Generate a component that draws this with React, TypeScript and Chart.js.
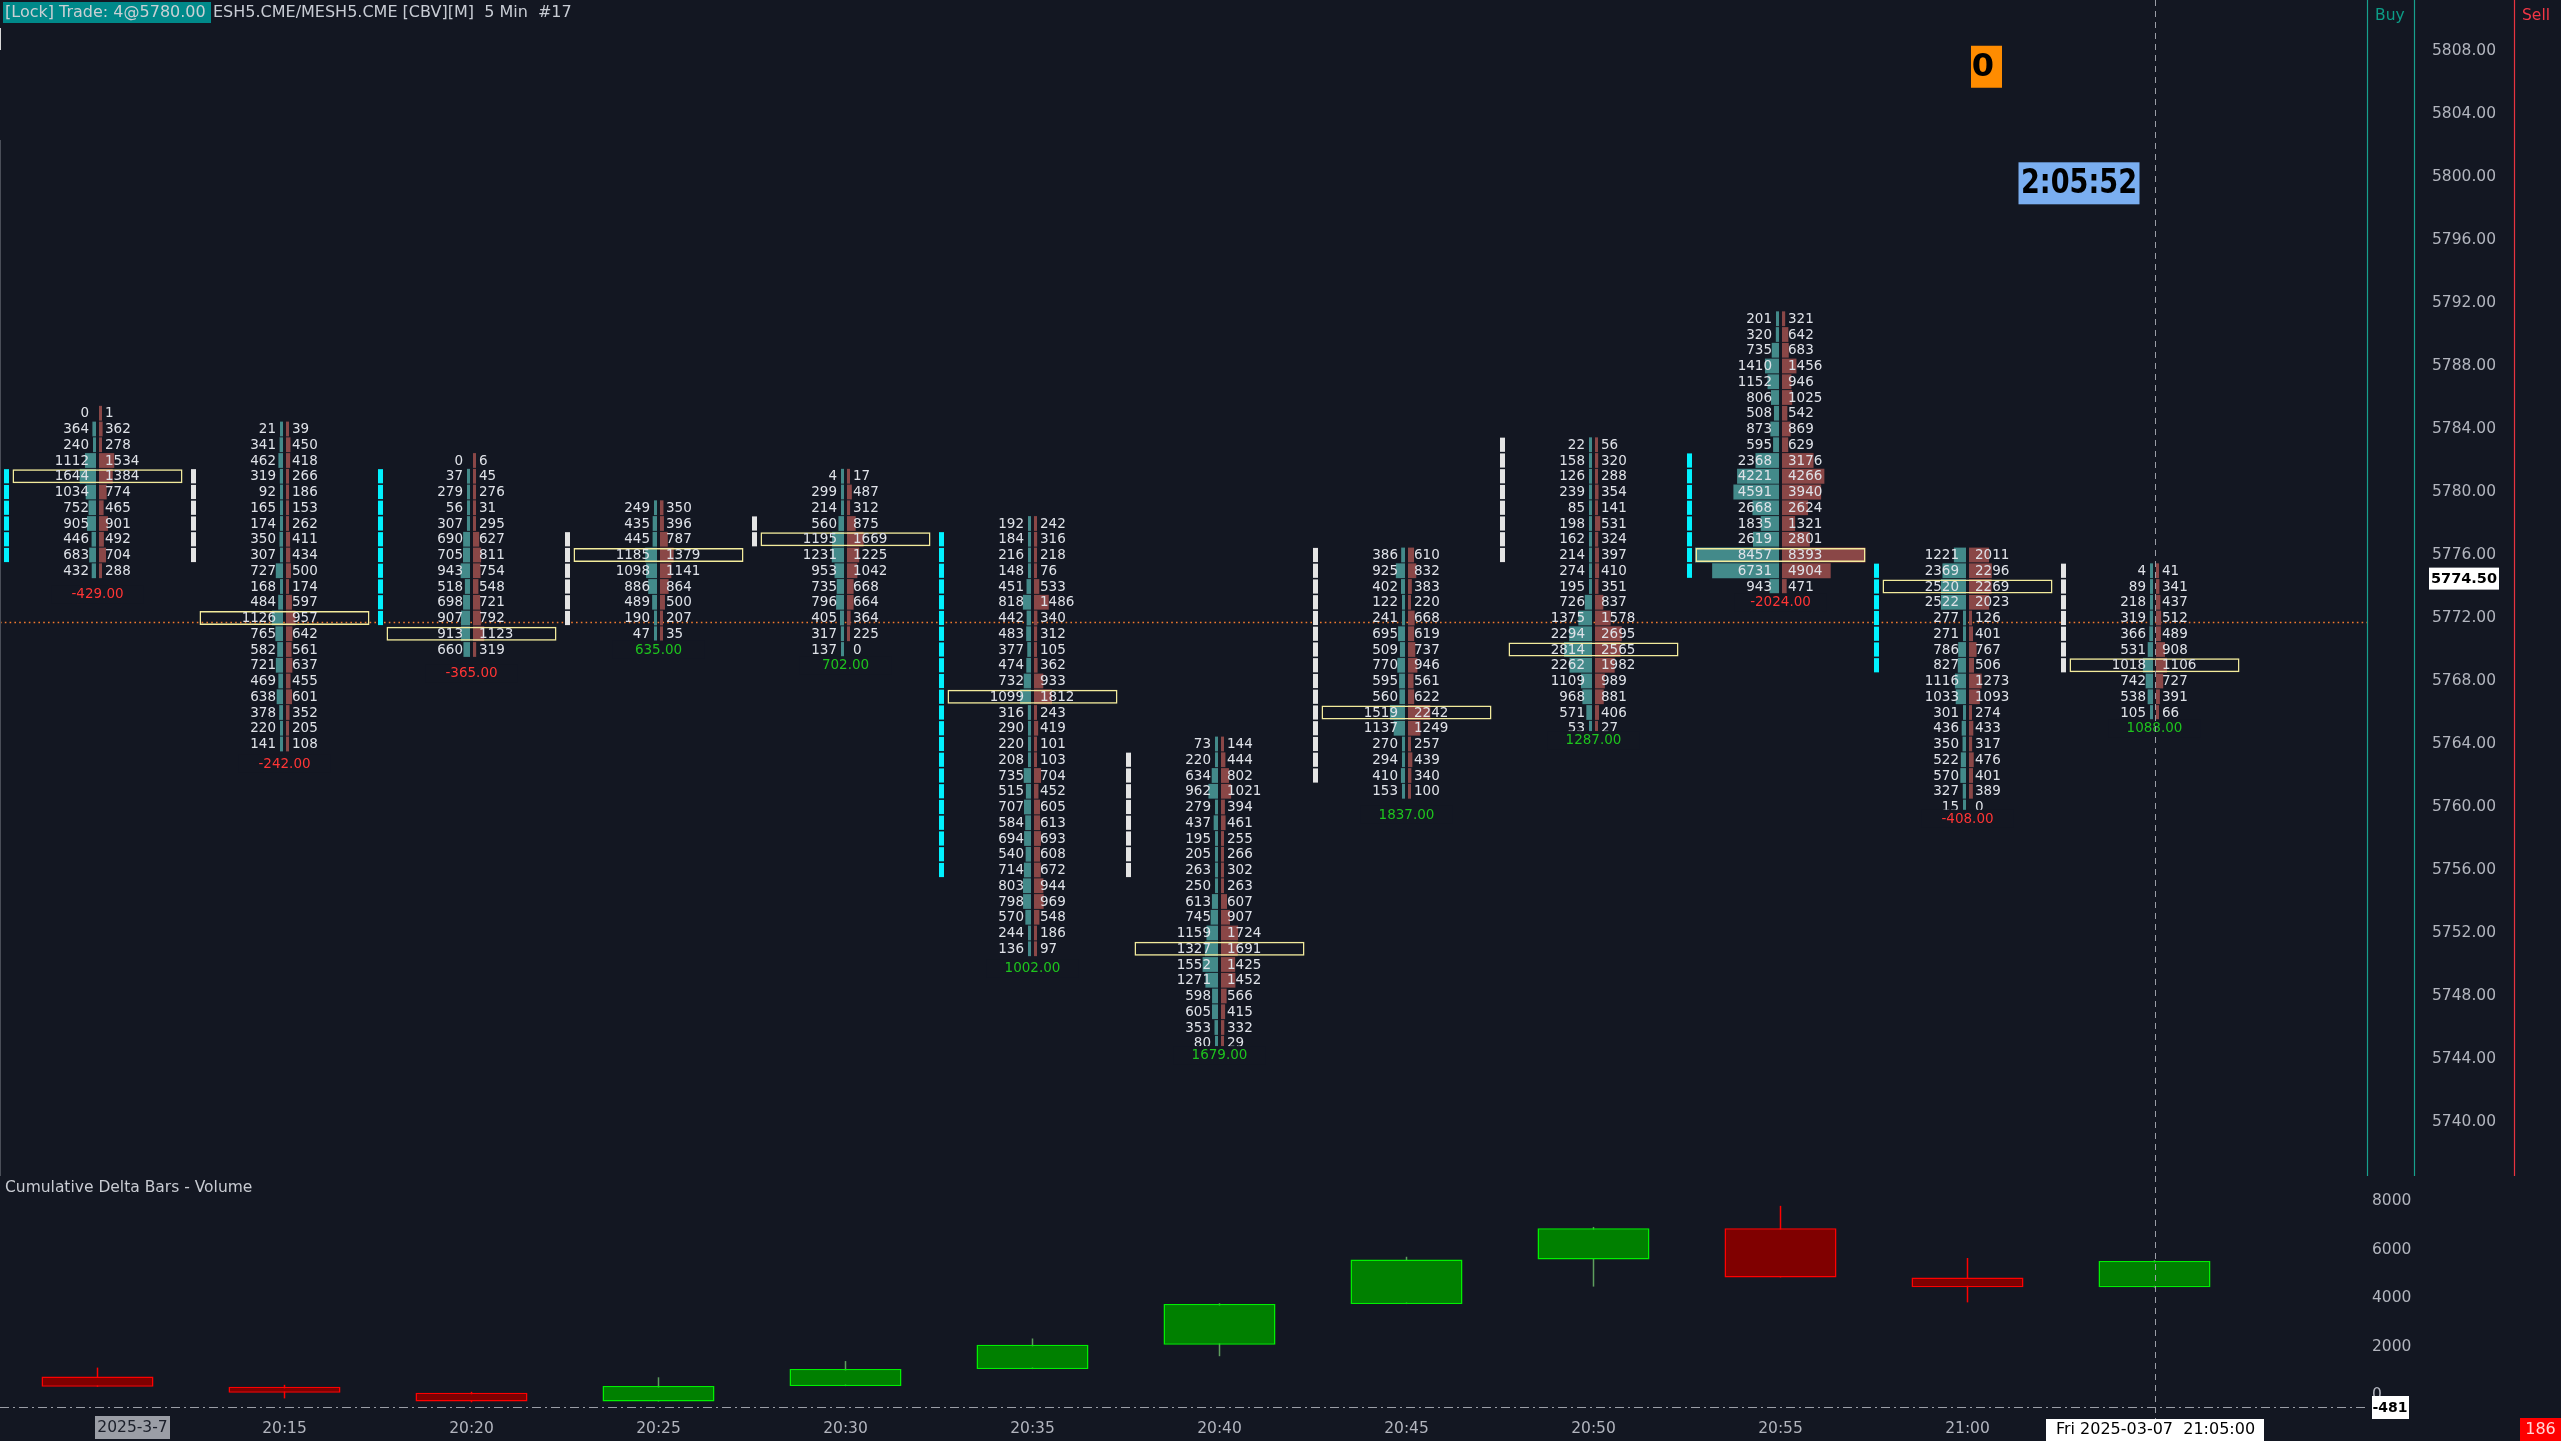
import React, { useEffect, useRef } from 'react';
import { Chart, registerables } from 'chart.js';

Chart.register(...registerables);

// ======================= DATA =======================
const TIME_LABELS = ['20:10', '20:15', '20:20', '20:25', '20:30', '20:35', '20:40', '20:45', '20:50', '20:55', '21:00', '21:05'];
// price of the first (highest) footprint row of each bar
const TOP_PRICES = [5785, 5784, 5782, 5779, 5781, 5778, 5764, 5776, 5783, 5791, 5776, 5775];

const BID_2010 = [0, 364, 240, 1112, 1644, 1034, 752, 905, 446, 683, 432];
const ASK_2010 = [1, 362, 278, 1534, 1384, 774, 465, 901, 492, 704, 288];
const BID_2015 = [21, 341, 462, 319, 92, 165, 174, 350, 307, 727, 168, 484, 1126, 765, 582, 721, 469, 638, 378, 220, 141];
const ASK_2015 = [39, 450, 418, 266, 186, 153, 262, 411, 434, 500, 174, 597, 957, 642, 561, 637, 455, 601, 352, 205, 108];
const BID_2020 = [0, 37, 279, 56, 307, 690, 705, 943, 518, 698, 907, 913, 660];
const ASK_2020 = [6, 45, 276, 31, 295, 627, 811, 754, 548, 721, 792, 1123, 319];
const BID_2025 = [249, 435, 445, 1185, 1098, 886, 489, 190, 47];
const ASK_2025 = [350, 396, 787, 1379, 1141, 864, 500, 207, 35];
const BID_2030 = [4, 299, 214, 560, 1195, 1231, 953, 735, 796, 405, 317, 137];
const ASK_2030 = [17, 487, 312, 875, 1669, 1225, 1042, 668, 664, 364, 225, 0];
const BID_2035 = [192, 184, 216, 148, 451, 818, 442, 483, 377, 474, 732, 1099, 316, 290, 220, 208, 735, 515, 707, 584, 694, 540, 714, 803, 798, 570, 244, 136];
const ASK_2035 = [242, 316, 218, 76, 533, 1486, 340, 312, 105, 362, 933, 1812, 243, 419, 101, 103, 704, 452, 605, 613, 693, 608, 672, 944, 969, 548, 186, 97];
const BID_2040 = [73, 220, 634, 962, 279, 437, 195, 205, 263, 250, 613, 745, 1159, 1327, 1552, 1271, 598, 605, 353, 80];
const ASK_2040 = [144, 444, 802, 1021, 394, 461, 255, 266, 302, 263, 607, 907, 1724, 1691, 1425, 1452, 566, 415, 332, 29];
const BID_2045 = [386, 925, 402, 122, 241, 695, 509, 770, 595, 560, 1519, 1137, 270, 294, 410, 153];
const ASK_2045 = [610, 832, 383, 220, 668, 619, 737, 946, 561, 622, 2242, 1249, 257, 439, 340, 100];
const BID_2050 = [22, 158, 126, 239, 85, 198, 162, 214, 274, 195, 726, 1375, 2294, 2814, 2262, 1109, 968, 571, 53];
const ASK_2050 = [56, 320, 288, 354, 141, 531, 324, 397, 410, 351, 837, 1578, 2695, 2565, 1982, 989, 881, 406, 27];
const BID_2055 = [201, 320, 735, 1410, 1152, 806, 508, 873, 595, 2368, 4221, 4591, 2668, 1835, 2619, 8457, 6731, 943];
const ASK_2055 = [321, 642, 683, 1456, 946, 1025, 542, 869, 629, 3176, 4266, 3940, 2624, 1321, 2801, 8393, 4904, 471];
const BID_2100 = [1221, 2369, 2520, 2522, 277, 271, 786, 827, 1116, 1033, 301, 436, 350, 522, 570, 327, 15];
const ASK_2100 = [2011, 2296, 2269, 2023, 126, 401, 767, 506, 1273, 1093, 274, 433, 317, 476, 401, 389, 0];
const BID_2105 = [4, 89, 218, 319, 366, 531, 1018, 742, 538, 105];
const ASK_2105 = [41, 341, 437, 512, 489, 908, 1106, 727, 391, 66];

const POC_PRICES = [5781, 5772, 5771, 5776, 5777, 5767, 5751, 5766, 5770, 5776, 5774, 5769];
const BAR_DELTAS = [-429, -242, -365, 635, 702, 1002, 1679, 1837, 1287, -2024, -408, 1088];
const BAR_LOWS = [5774.5, 5763.75, 5769.5, 5771, 5770, 5750.75, 5745.25, 5760.5, 5765.25, 5774, 5760.25, 5766];

const MARKER_TOPS = [5781, 5781, 5781, 5777, 5778, 5777, 5763, 5776, 5783, 5782, 5775, 5775];
const MARKER_BOTTOMS = [5776, 5776, 5772, 5772, 5777, 5756, 5756, 5762, 5776, 5775, 5769, 5769];
const MARKER_KINDS = ['cyan', 'white', 'cyan', 'white', 'white', 'cyan', 'white', 'white', 'white', 'cyan', 'cyan', 'white'];

const CD_OPEN = [768, 339, 97, -268, 367, 1069, 2071, 3750, 5587, 6874, 4850, 4442];
const CD_HIGH = [1130, 420, 130, 730, 1400, 2330, 3780, 5700, 6930, 7800, 5650, 5560];
const CD_LOW = [339, -140, -300, -268, 367, 1069, 1600, 3750, 4470, 4850, 3820, 4430];
const CD_CLOSE = [339, 97, -268, 367, 1069, 2071, 3750, 5587, 6874, 4850, 4442, 5530];
const CD_TICKS = [0, 2000, 4000, 6000, 8000];

const PRICE_STEP = 4;
const LAST_PRICE = 5774.5;
const REF_PRICE = 5771.75;
const CROSS_VALUE = -481;
const CROSS_INDEX = 11;

const HEADER_LOCK = '[Lock] Trade: 4@5780.00';
const HEADER_SYMBOL = 'ESH5.CME/MESH5.CME [CBV][M]  5 Min  #17';
const COUNTER_TEXT = '0';
const TIMER_TEXT = '2:05:52';
const PANEL_TITLE = 'Cumulative Delta Bars - Volume';
const DATE_TEXT = '2025-3-7';
const CROSS_TIME_TEXT = 'Fri 2025-03-07  21:05:00';
const CORNER_TEXT = '186';
const BUY_TEXT = 'Buy';
const SELL_TEXT = 'Sell';

const BIDS = [BID_2010, BID_2015, BID_2020, BID_2025, BID_2030, BID_2035, BID_2040, BID_2045, BID_2050, BID_2055, BID_2100, BID_2105];
const ASKS = [ASK_2010, ASK_2015, ASK_2020, ASK_2025, ASK_2030, ASK_2035, ASK_2040, ASK_2045, ASK_2050, ASK_2055, ASK_2100, ASK_2105];

// ======================= LAYOUT / STYLE =======================
const W = 2561;
const H = 1441;
const MAIN_H = 1176;
const CD_H = H - MAIN_H;
const AXIS_W = 194;
const PLOT_W = W - AXIS_W;
const BAR_PX = 187;
const FIRST_X = 97.5;
const X_MIN = -FIRST_X / BAR_PX;
const X_MAX = (PLOT_W - FIRST_X) / BAR_PX;
const ROW_PX = 15.75;
const Y_MAX = 5808 + 51 / ROW_PX;
const Y_MIN = 5808 - (MAIN_H - 51) / ROW_PX;
const CD_PX = 0.02425;
const CD_MAX = 219 / CD_PX;
const CD_MIN = -20 / CD_PX;
const MAX_VOL_PX = 84;

const FONT = '"DejaVu Sans", "Noto Sans", sans-serif';
const BG = '#131722';
const FP_TEXT = '#dfe2e8';
const AXIS_TEXT = '#b2b5be';
const BID_COLOR = '#438a8a';
const ASK_COLOR = '#8a4747';
const POC_COLOR = '#f3eb9c';

Chart.defaults.font.family = FONT;

function maxVolume() {
  let m = 0;
  BIDS.forEach((b) => b.forEach((v) => { if (v > m) m = v; }));
  ASKS.forEach((a) => a.forEach((v) => { if (v > m) m = v; }));
  return m;
}

function fitText(ctx: any, text: string, cx: number, cy: number, maxW: number) {
  const w = ctx.measureText(text).width;
  const s = w > maxW ? maxW / w : 1;
  ctx.save();
  ctx.translate(cx, cy);
  ctx.scale(s, 1);
  ctx.textAlign = 'center';
  ctx.fillText(text, 0, 0);
  ctx.restore();
}

function buildMainDatasets() {
  const maxV = maxVolume();
  const volUnits = (v: number) => Math.max(3, (v / maxV) * MAX_VOL_PX) / BAR_PX;
  const gap = 1.5 / BAR_PX;
  const poc: any[] = [];
  const bid: any[] = [];
  const ask: any[] = [];
  const marker: any[] = [];
  const markerColors: string[] = [];
  POC_PRICES.forEach((p, i) => {
    poc.push({ x: [i - 85 / BAR_PX, i + 85 / BAR_PX], y: p });
  });
  BIDS.forEach((bids, i) => {
    bids.forEach((b, r) => {
      const price = TOP_PRICES[i] - r;
      if (b > 0) bid.push({ x: [i - gap - volUnits(b), i - gap], y: price });
      const a = ASKS[i][r];
      if (a > 0) ask.push({ x: [i + gap, i + gap + volUnits(a)], y: price });
    });
  });
  MARKER_TOPS.forEach((top, i) => {
    for (let p = top; p >= MARKER_BOTTOMS[i]; p--) {
      marker.push({ x: [i - 93.5 / BAR_PX, i - 88.5 / BAR_PX], y: p });
      markerColors.push(MARKER_KINDS[i] === 'cyan' ? '#00f2ff' : '#e4e4e4');
    }
  });
  return [
    { label: 'POC', data: poc, backgroundColor: 'rgba(0,0,0,0)', borderColor: POC_COLOR, borderWidth: 1.5, borderSkipped: false, barThickness: 14, grouped: false, inflateAmount: 0 },
    { label: 'Bid', data: bid, backgroundColor: BID_COLOR, borderWidth: 0, barThickness: 14.8, grouped: false, inflateAmount: 0 },
    { label: 'Ask', data: ask, backgroundColor: ASK_COLOR, borderWidth: 0, barThickness: 14.8, grouped: false, inflateAmount: 0 },
    { label: 'Marker', data: marker, backgroundColor: markerColors, borderWidth: 0, barThickness: 14.2, grouped: false, inflateAmount: 0 },
  ];
}

const mainOverlay = {
  id: 'mainOverlay',
  beforeDatasetsDraw(chart: any) {
    const { ctx, chartArea, scales } = chart;
    const y = Math.round(scales.y.getPixelForValue(REF_PRICE)) + 0.5;
    ctx.save();
    ctx.strokeStyle = '#f27a2e';
    ctx.lineWidth = 1.3;
    ctx.setLineDash([1.6, 3.2]);
    ctx.beginPath();
    ctx.moveTo(chartArea.left, y);
    ctx.lineTo(chartArea.right, y);
    ctx.stroke();
    ctx.restore();
  },
  afterDraw(chart: any) {
    const { ctx, chartArea } = chart;
    const x = chart.scales.x;
    const y = chart.scales.y;
    ctx.save();
    // footprint numbers
    ctx.font = `13.5px ${FONT}`;
    ctx.textBaseline = 'middle';
    ctx.fillStyle = FP_TEXT;
    BIDS.forEach((bids, i) => {
      const cx = x.getPixelForValue(i);
      bids.forEach((b, r) => {
        const py = y.getPixelForValue(TOP_PRICES[i] - r) + 0.5;
        ctx.textAlign = 'right';
        ctx.fillText(String(b), cx - 8.5, py);
        ctx.textAlign = 'left';
        ctx.fillText(String(ASKS[i][r]), cx + 7.5, py);
      });
    });
    // delta labels
    ctx.font = `13.5px ${FONT}`;
    ctx.textAlign = 'center';
    BAR_DELTAS.forEach((d, i) => {
      const cx = x.getPixelForValue(i);
      const ly = y.getPixelForValue(BAR_LOWS[i]) + ROW_PX;
      ctx.fillStyle = BG;
      ctx.fillRect(cx - 46, ly - 9, 92, 18);
      ctx.fillStyle = d < 0 ? '#ff3535' : '#1ec41e';
      ctx.fillText(d.toFixed(2), cx, ly + 0.5);
    });
    // separator lines on the right
    ctx.lineWidth = 1.2;
    ctx.strokeStyle = '#17a08d';
    [chartArea.right + 0.5, chartArea.right + 47.5].forEach((lx) => {
      ctx.beginPath();
      ctx.moveTo(lx, 0);
      ctx.lineTo(lx, MAIN_H);
      ctx.stroke();
    });
    ctx.strokeStyle = '#e8333f';
    ctx.beginPath();
    ctx.moveTo(chartArea.right + 147.5, 0);
    ctx.lineTo(chartArea.right + 147.5, MAIN_H);
    ctx.stroke();
    ctx.font = `15.5px ${FONT}`;
    ctx.textAlign = 'left';
    ctx.fillStyle = '#0c9c87';
    ctx.fillText(BUY_TEXT, chartArea.right + 8, 16);
    ctx.fillStyle = '#f23645';
    ctx.fillText(SELL_TEXT, chartArea.right + 155, 16);
    // last price box
    const lp = y.getPixelForValue(LAST_PRICE);
    ctx.fillStyle = '#ffffff';
    ctx.fillRect(chartArea.right + 62, lp - 11, 70, 22);
    ctx.fillStyle = '#000000';
    ctx.font = `bold 14.5px ${FONT}`;
    ctx.textAlign = 'center';
    ctx.fillText(LAST_PRICE.toFixed(2), chartArea.right + 97, lp + 0.5);
    // counter box
    const bx = x.getPixelForValue(10) + 3.5;
    const by = y.getPixelForValue(5807);
    ctx.fillStyle = '#ff8c00';
    ctx.fillRect(bx, by - 21, 31, 42);
    ctx.fillStyle = '#000000';
    ctx.font = `bold 32px ${FONT}`;
    ctx.fillText(COUNTER_TEXT, bx + 12, by + 1);
    // timer box
    const tx = x.getPixelForValue(11) - 15;
    const ty = y.getPixelForValue(5799.6);
    ctx.fillStyle = '#7aaef0';
    ctx.fillRect(tx - 121, ty - 21, 121, 42);
    ctx.fillStyle = '#000000';
    ctx.font = `bold 34px ${FONT}`;
    fitText(ctx, TIMER_TEXT, tx - 60.5, ty + 1, 116);
    // crosshair vertical
    const cx = Math.round(x.getPixelForValue(CROSS_INDEX)) + 0.5;
    ctx.strokeStyle = '#9a9da6';
    ctx.lineWidth = 1;
    ctx.setLineDash([6, 5]);
    ctx.beginPath();
    ctx.moveTo(cx, 0);
    ctx.lineTo(cx, MAIN_H);
    ctx.stroke();
    ctx.setLineDash([]);
    // left edge line
    ctx.strokeStyle = '#d8d8d8';
    ctx.beginPath();
    ctx.moveTo(0.5, 28);
    ctx.lineTo(0.5, 50);
    ctx.stroke();
    ctx.strokeStyle = '#4a4e58';
    ctx.beginPath();
    ctx.moveTo(0.5, 140);
    ctx.lineTo(0.5, MAIN_H);
    ctx.stroke();
    // header
    ctx.fillStyle = '#00898a';
    ctx.fillRect(3, 2, 208, 21);
    ctx.font = `16px ${FONT}`;
    ctx.textAlign = 'left';
    ctx.fillStyle = '#c9d0d4';
    ctx.fillText(HEADER_LOCK, 5, 13);
    ctx.fillStyle = '#c8ccd4';
    ctx.fillText(HEADER_SYMBOL, 213, 13);
    ctx.restore();
  },
};

const cdOverlay = {
  id: 'cdOverlay',
  afterDraw(chart: any) {
    const { ctx, chartArea } = chart;
    const x = chart.scales.x;
    const y = chart.scales.y;
    ctx.save();
    ctx.textBaseline = 'middle';
    ctx.font = `15.5px ${FONT}`;
    ctx.fillStyle = '#c8cbd2';
    ctx.textAlign = 'left';
    ctx.fillText(PANEL_TITLE, 5, 12);
    // horizontal crosshair
    const hy = Math.round(y.getPixelForValue(CROSS_VALUE)) + 0.5;
    ctx.strokeStyle = '#9a9da6';
    ctx.lineWidth = 1;
    ctx.setLineDash([9, 4, 2, 4]);
    ctx.beginPath();
    ctx.moveTo(0, hy);
    ctx.lineTo(chartArea.right, hy);
    ctx.stroke();
    // vertical crosshair
    const cx = Math.round(x.getPixelForValue(CROSS_INDEX)) + 0.5;
    ctx.setLineDash([6, 5]);
    ctx.beginPath();
    ctx.moveTo(cx, 0);
    ctx.lineTo(cx, chartArea.bottom + 4);
    ctx.stroke();
    ctx.setLineDash([]);
    // crosshair value box
    ctx.fillStyle = '#ffffff';
    ctx.fillRect(chartArea.right + 5, hy - 11.5, 37, 23);
    ctx.fillStyle = '#000000';
    ctx.font = `bold 14px ${FONT}`;
    ctx.fillText(String(CROSS_VALUE), chartArea.right + 5.5, hy + 0.5);
    // date label
    const x0 = x.getPixelForValue(0);
    ctx.fillStyle = '#9b9ea6';
    ctx.fillRect(x0 - 2.5, 240, 75, 23);
    ctx.fillStyle = '#1b1f2a';
    ctx.font = `15.5px ${FONT}`;
    ctx.textAlign = 'center';
    ctx.fillText(DATE_TEXT, x0 + 35, 252);
    // crosshair time box
    ctx.fillStyle = '#ffffff';
    ctx.fillRect(cx - 109.5, 243, 218, 22);
    ctx.fillStyle = '#000000';
    ctx.font = `16px ${FONT}`;
    ctx.fillText(CROSS_TIME_TEXT, cx, 254);
    // corner box
    ctx.fillStyle = '#ff0000';
    ctx.fillRect(W - 41, CD_H - 23, 41, 23);
    ctx.fillStyle = '#ffd6d6';
    ctx.font = `16px ${FONT}`;
    ctx.fillText(CORNER_TEXT, W - 20.5, CD_H - 11);
    ctx.restore();
  },
};

function mainConfig(): any {
  return {
    type: 'bar',
    data: { datasets: buildMainDatasets() },
    options: {
      indexAxis: 'y',
      responsive: false,
      maintainAspectRatio: false,
      animation: false,
      devicePixelRatio: 1,
      events: [],
      layout: { padding: 0 },
      plugins: { legend: { display: false }, tooltip: { enabled: false } },
      scales: {
        x: { type: 'linear', min: X_MIN, max: X_MAX, display: false, offset: false },
        y: {
          type: 'linear',
          position: 'right',
          min: Y_MIN,
          max: Y_MAX,
          offset: false,
          grid: { display: false, drawTicks: false },
          border: { display: false },
          ticks: {
            stepSize: PRICE_STEP,
            includeBounds: false,
            padding: 65,
            color: AXIS_TEXT,
            font: { size: 15.5, family: FONT },
            callback: (v: any) => Number(v).toFixed(2),
          },
          afterFit: (s: any) => { s.width = AXIS_W; s.paddingTop = 0; s.paddingBottom = 0; },
        },
      },
    },
    plugins: [mainOverlay],
  };
}

function cdConfig(): any {
  const up = CD_OPEN.map((o, i) => CD_CLOSE[i] >= o);
  return {
    type: 'bar',
    data: {
      datasets: [
        {
          label: 'Body',
          data: CD_OPEN.map((o, i) => ({ x: i, y: [o, CD_CLOSE[i]] })),
          backgroundColor: up.map((u) => (u ? '#008000' : '#800000')),
          borderColor: up.map((u) => (u ? '#00f000' : '#ff0000')),
          borderWidth: 1.5,
          borderSkipped: false,
          barThickness: 112,
          grouped: false,
          inflateAmount: 0,
        },
        {
          label: 'Wick',
          data: CD_LOW.map((l, i) => ({ x: i, y: [l, CD_HIGH[i]] })),
          backgroundColor: up.map((u) => (u ? '#5e9e5e' : '#ff0000')),
          borderWidth: 0,
          barThickness: 1.5,
          grouped: false,
          inflateAmount: 0,
        },
      ],
    },
    options: {
      responsive: false,
      maintainAspectRatio: false,
      animation: false,
      devicePixelRatio: 1,
      events: [],
      layout: { padding: 0 },
      plugins: { legend: { display: false }, tooltip: { enabled: false } },
      scales: {
        x: {
          type: 'linear',
          min: X_MIN,
          max: X_MAX,
          offset: false,
          grid: { display: false, drawTicks: false },
          border: { display: false },
          ticks: {
            stepSize: 1,
            autoSkip: false,
            maxRotation: 0,
            minRotation: 0,
            includeBounds: false,
            padding: 5,
            color: AXIS_TEXT,
            font: { size: 15.5, family: FONT },
            callback: (v: any) => (Number.isInteger(v) && v >= 1 && v <= 10 ? TIME_LABELS[v] : ''),
          },
          afterFit: (s: any) => { s.height = 26; s.paddingLeft = 0; s.paddingRight = 0; },
        },
        y: {
          type: 'linear',
          position: 'right',
          min: CD_MIN,
          max: CD_MAX,
          offset: false,
          grid: { display: false, drawTicks: false },
          border: { display: false },
          afterBuildTicks: (s: any) => { s.ticks = CD_TICKS.map((v) => ({ value: v })); },
          ticks: {
            padding: 5,
            color: AXIS_TEXT,
            font: { size: 15.5, family: FONT },
            callback: (v: any) => String(v),
          },
          afterFit: (s: any) => { s.width = AXIS_W; s.paddingTop = 0; s.paddingBottom = 0; },
        },
      },
    },
    plugins: [cdOverlay],
  };
}

export default function App() {
  const mainRef = useRef<HTMLCanvasElement>(null);
  const cdRef = useRef<HTMLCanvasElement>(null);
  useEffect(() => {
    const a = new Chart(mainRef.current as HTMLCanvasElement, mainConfig());
    const b = new Chart(cdRef.current as HTMLCanvasElement, cdConfig());
    return () => {
      a.destroy();
      b.destroy();
    };
  }, []);
  return (
    <div style={{ position: 'fixed', left: 0, top: 0, width: W, height: H, background: BG, overflow: 'hidden' }}>
      <canvas ref={mainRef} width={W} height={MAIN_H} style={{ position: 'absolute', left: 0, top: 0, width: W, height: MAIN_H }} />
      <canvas ref={cdRef} width={W} height={CD_H} style={{ position: 'absolute', left: 0, top: MAIN_H, width: W, height: CD_H }} />
    </div>
  );
}
